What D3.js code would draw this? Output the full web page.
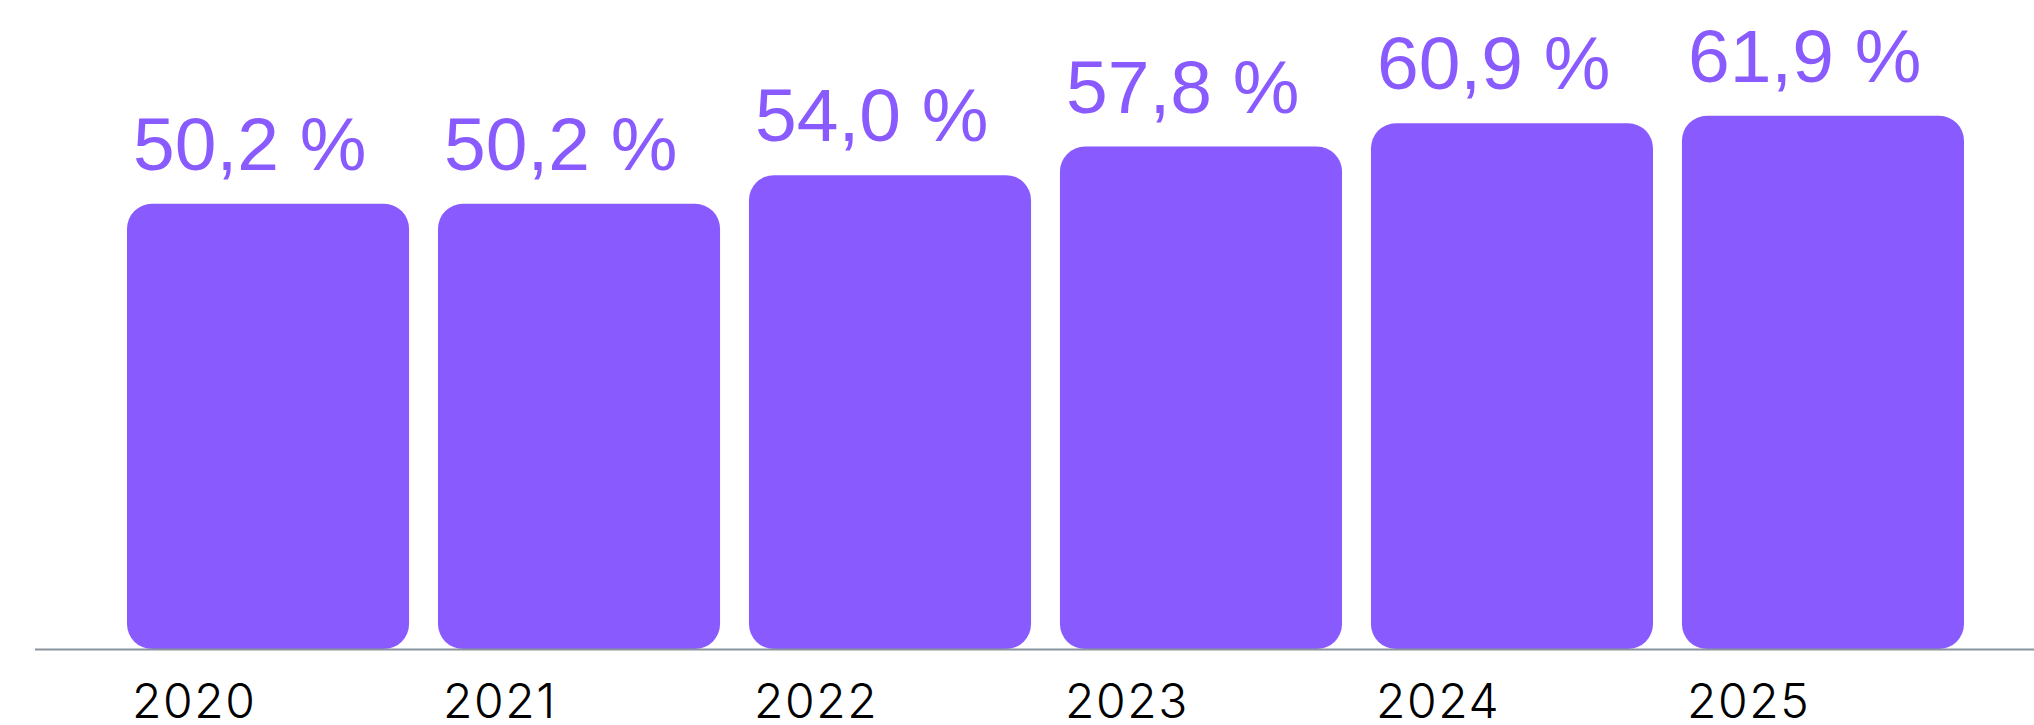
<!DOCTYPE html>
<html>
<head>
<meta charset="utf-8">
<script src="https://cdn.jsdelivr.net/npm/d3@7"></script>
<style>
  html, body { margin: 0; padding: 0; background: #ffffff; }
  svg { display: block; }
</style>
</head>
<body>
<div id="chart"></div>
<script>
// ---- data ----
const years = ["2020", "2021", "2022", "2023", "2024", "2025"];
const values = [50.2, 50.2, 54.0, 57.8, 60.9, 61.9];

const W = 2034, H = 725;
const baseY = 649;
const purple = "#895bff";

const svg = d3.select("#chart").append("svg")
  .attr("width", W).attr("height", H);

const x = d3.scaleBand()
  .domain(years)
  .range([127, 1964])
  .paddingInner(0.093)
  .paddingOuter(0);

// bars in the reference are not drawn from zero; fitted scale
const y = d3.scaleLinear()
  .domain([-9.0, 70])
  .range([baseY, baseY - 7.521 * 79]);

const locale = d3.formatLocale({ decimal: ",", thousands: " ", grouping: [3], currency: ["", " €"] });
const fmt = locale.format(".1f");

const data = years.map((yr, i) => ({ year: yr, value: values[i] }));

svg.selectAll("rect.bar")
  .data(data)
  .join("rect")
  .attr("class", "bar")
  .attr("x", d => x(d.year))
  .attr("width", x.bandwidth())
  .attr("y", d => y(d.value))
  .attr("height", d => baseY - y(d.value))
  .attr("rx", 25).attr("ry", 25)
  .attr("fill", purple);

// baseline
svg.append("line")
  .attr("x1", 35).attr("x2", W)
  .attr("y1", baseY + 0.5).attr("y2", baseY + 0.5)
  .attr("stroke", "#8a949e")
  .attr("stroke-width", 2);

// value labels
svg.selectAll("text.val")
  .data(data)
  .join("text")
  .attr("class", "val")
  .attr("x", d => x(d.year) + 6)
  .attr("y", d => y(d.value) - 34)
  .attr("font-family", "'Liberation Sans', Arial, sans-serif")
  .attr("font-size", 75)
  .attr("fill", purple)
  .text(d => fmt(d.value) + " %");

// year labels
svg.selectAll("text.year")
  .data(data)
  .join("text")
  .attr("class", "year")
  .attr("x", d => x(d.year) + 5)
  .attr("y", 718)
  .attr("font-family", "Inter, 'Noto Sans', sans-serif")
  .attr("font-weight", 300)
  .attr("font-size", 48)
  .attr("letter-spacing", 1.6)
  .attr("fill", "#000")
  .text(d => d.year);
</script>
</body>
</html>
